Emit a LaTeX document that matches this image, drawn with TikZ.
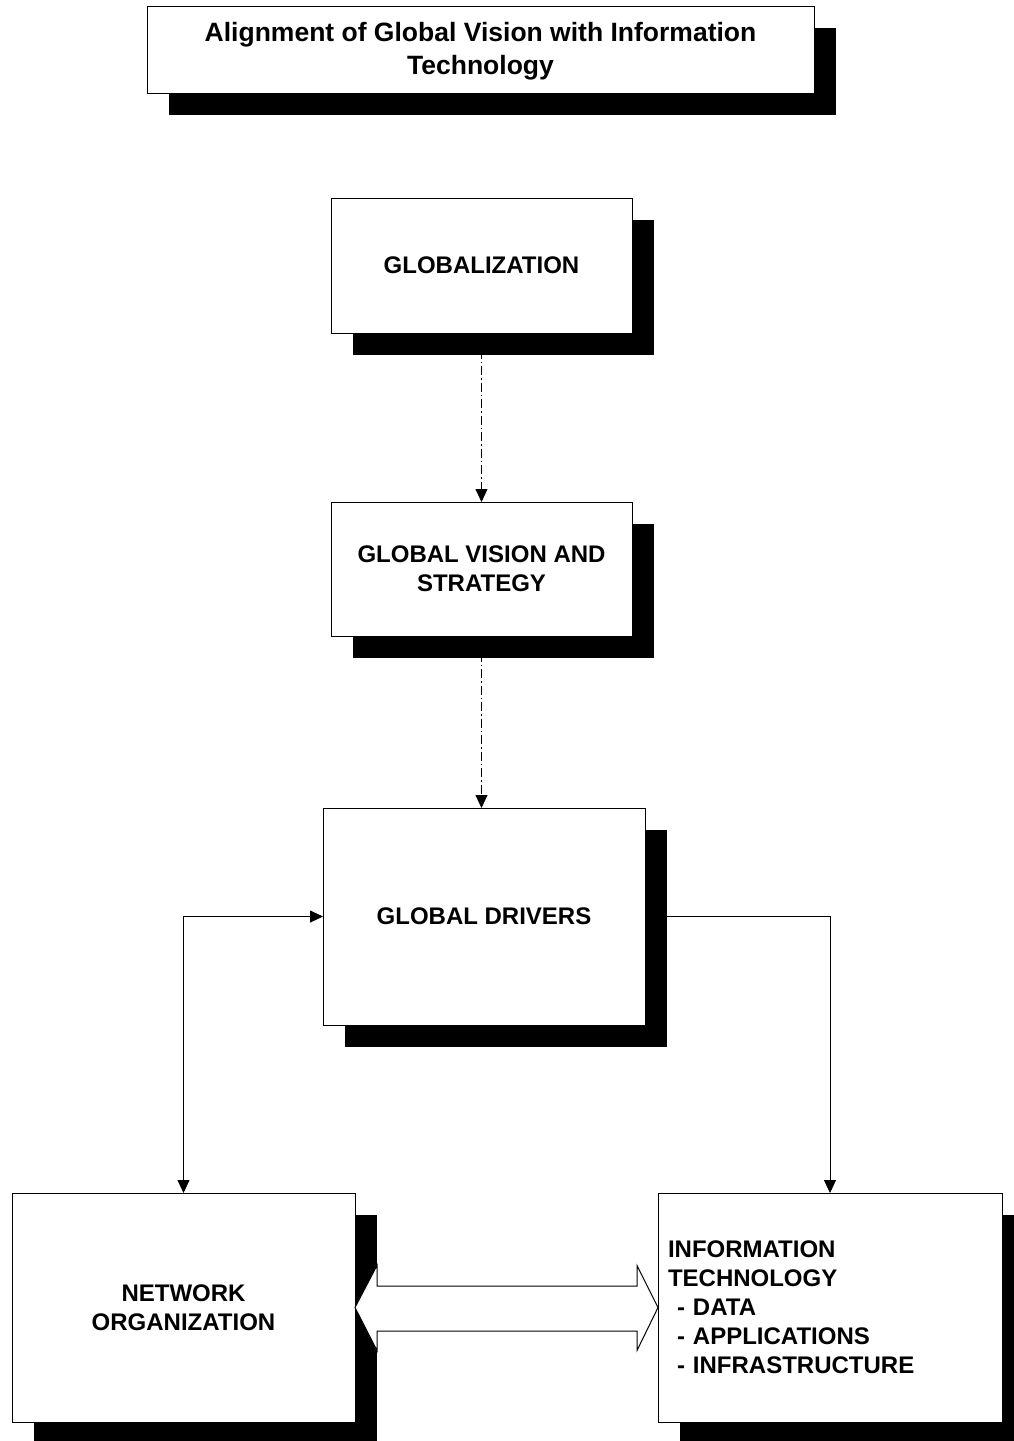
\documentclass[tikz,border=0pt]{standalone}
\usepackage{fontspec}
\setmainfont{Liberation Sans}
\usetikzlibrary{arrows.meta,shadows,calc}
\begin{document}
\begin{tikzpicture}[x=1pt,y=-1pt,
  box/.style={draw=black, line width=1pt, fill=white, inner sep=0pt, outer sep=0pt,
    align=center, font=\fontsize{24}{29}\selectfont\bfseries,
    drop shadow={shadow xshift=22pt, shadow yshift=-22pt, fill=black, opacity=1}},
  dd/.style={line width=0.8pt, dash pattern=on 9pt off 3pt on 1.5pt off 3pt},
  conn/.style={line width=0.8pt},
  tip/.style={-{Triangle[length=13pt,width=12pt]}},
  tips/.style={{Triangle[length=13pt,width=12pt]}-{Triangle[length=13pt,width=12pt]}}
]
\useasboundingbox (0,0) rectangle (1014,1441);
\clip (0,0) rectangle (1014,1441);
\fill[white] (0,0) rectangle (1014,1441);

\node[box, minimum width=667pt, minimum height=87pt, font=\fontsize{26.5}{33}\selectfont\bfseries]
  (title) at (480.5,49.5) {\rule{0pt}{22pt}Alignment of Global Vision with Information\\Technology};
\node[box, minimum width=301pt, minimum height=135pt] (glob) at (481.5,265.5) {GLOBALIZATION};
\node[box, minimum width=301pt, minimum height=134pt] (gvs) at (481.5,569) {GLOBAL VISION AND\\STRATEGY};
\node[box, minimum width=322pt, minimum height=217pt] (gd) at (484,916.5) {GLOBAL DRIVERS};
\node[box, minimum width=343pt, minimum height=229pt] (no) at (183.5,1307.5) {NETWORK\\ORGANIZATION};
\node[box, minimum width=344pt, minimum height=229pt, text width=324pt, inner xsep=10pt, align=left]
  (it) at (830,1307.5) {INFORMATION\\TECHNOLOGY\\\hspace*{9pt}- DATA\\\hspace*{9pt}- APPLICATIONS\\\hspace*{9pt}- INFRASTRUCTURE};

% connectors
\draw[dd, tip] (glob.south) -- (gvs.north);
\draw[dd, tip] (gvs.south) -- (gvs.south |- gd.north);
\draw[conn, tips] (gd.west) -- (no.north |- gd.west) -- (no.north);
\draw[conn, tip] (gd.east) -| (it.north);

% double block arrow
\draw[line width=1pt, fill=white, line join=miter]
  (no.east) -- ($(no.east)+(22,-42)$) -- ($(no.east)+(22,-21.5)$)
  -- ($(it.west)+(-21,-21.5)$) -- ($(it.west)+(-21,-42)$) -- (it.west)
  -- ($(it.west)+(-21,43)$) -- ($(it.west)+(-21,23.5)$)
  -- ($(no.east)+(22,23.5)$) -- ($(no.east)+(22,43)$) -- cycle;
\end{tikzpicture}
\end{document}
